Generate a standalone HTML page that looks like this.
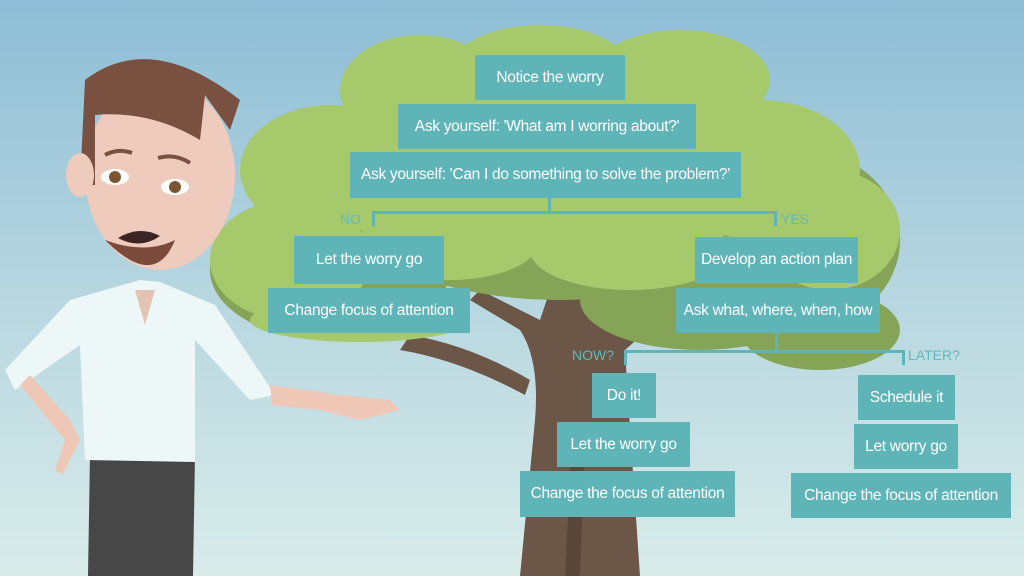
<!DOCTYPE html>
<html><head><meta charset="utf-8"><style>
html,body{margin:0;padding:0;width:1024px;height:576px;overflow:hidden}
body{position:relative;background:linear-gradient(#8dbdd6 0%,#b6d6e0 50%,#d9ecea 100%);font-family:"Liberation Sans",sans-serif}
svg{position:absolute;left:0;top:0}
.b{position:absolute;background:#5fb4b8;color:#fff;font-size:15.5px;display:flex;align-items:center;justify-content:center;white-space:nowrap;letter-spacing:-0.3px}
.l{position:absolute;color:#5fb9bf;font-size:14px}
.ln{position:absolute;background:#5fb4b8}
</style></head><body>
<svg width="1024" height="576" viewBox="0 0 1024 576">
<path d="M520 576 L535 420 Q540 360 520 330 L470 300 L480 290 L540 320 L560 260 L600 260 L610 320 L660 300 L670 310 L625 350 Q630 430 640 576 Z" fill="#6b5648"/>
<path d="M400 350 Q460 360 525 395 L530 380 Q470 345 410 335 Z" fill="#6b5648"/>
<path d="M565 576 L572 440 L585 440 L580 576Z" fill="#5a4639"/>
<g fill="#86a458">
<ellipse cx="330" cy="270" rx="120" ry="70"/><ellipse cx="560" cy="180" rx="240" ry="120"/>
<ellipse cx="800" cy="240" rx="100" ry="90"/><ellipse cx="700" cy="300" rx="120" ry="50"/>
<ellipse cx="820" cy="330" rx="80" ry="40"/>
</g>
<g fill="#a6c96c">
<ellipse cx="420" cy="90" rx="80" ry="55"/><ellipse cx="540" cy="70" rx="90" ry="45"/>
<ellipse cx="680" cy="80" rx="90" ry="50"/><ellipse cx="330" cy="170" rx="90" ry="65"/>
<ellipse cx="560" cy="150" rx="220" ry="90"/><ellipse cx="290" cy="260" rx="80" ry="60"/>
<ellipse cx="760" cy="170" rx="100" ry="70"/><ellipse cx="830" cy="230" rx="70" ry="60"/>
<ellipse cx="630" cy="250" rx="100" ry="40"/><ellipse cx="450" cy="240" rx="90" ry="40"/>
<ellipse cx="360" cy="320" rx="110" ry="22"/>
</g>
<path d="M88 576 L90 455 L195 455 L193 576Z" fill="#474747"/>
<path d="M140 280 L70 300 L5 370 L15 390 L80 345 L85 460 L195 462 L195 340 L250 400 L275 395 L215 305 L160 282Z" fill="#eef7f7"/>
<path d="M135 290 L145 325 L155 290Z" fill="#e3c3b4"/>
<path d="M20 385 L65 440 L55 470 L62 475 L80 440 L70 420 L30 375Z" fill="#efc7b6"/>
<path d="M270 385 L340 395 L390 400 L400 410 L360 420 L320 410 L272 405Z" fill="#efc7b6"/>
<ellipse cx="160" cy="175" rx="75" ry="95" fill="#efcbbd"/>
<path d="M105 240 Q155 290 175 240 Q145 255 105 240Z" fill="#7a4b3c"/>
<path d="M80 185 L85 80 Q150 30 240 100 L230 130 L205 95 L200 140 Q150 110 95 115 L95 185Z" fill="#7a5040"/>
<ellipse cx="80" cy="175" rx="14" ry="22" fill="#efcbbd"/><ellipse cx="222" cy="190" rx="12" ry="20" fill="#efcbbd"/>
<ellipse cx="115" cy="177" rx="14" ry="8" fill="#fff"/><circle cx="115" cy="177" r="6" fill="#7a5532"/>
<ellipse cx="175" cy="187" rx="14" ry="8" fill="#fff"/><circle cx="175" cy="187" r="6" fill="#7a5532"/>
<path d="M118 238 Q140 225 160 236 Q140 250 118 238Z" fill="#3a2424"/>
<path d="M105 155 Q118 148 132 153 M158 158 Q175 153 190 163" stroke="#7a5040" stroke-width="4" fill="none"/>
</svg>
<div class="b" style="left:475px;top:55px;width:150px;height:45px">Notice the worry</div>
<div class="b" style="left:398px;top:104px;width:298px;height:45px">Ask yourself: 'What am I worring about?'</div>
<div class="b" style="left:350px;top:152px;width:391px;height:46px">Ask yourself: 'Can I do something to solve the problem?'</div>
<div class="ln" style="left:548px;top:198px;width:3px;height:13px"></div>
<div class="ln" style="left:372px;top:211px;width:405px;height:3px"></div>
<div class="ln" style="left:372px;top:211px;width:3px;height:15px"></div>
<div class="ln" style="left:774px;top:211px;width:3px;height:15px"></div>
<div class="l" style="left:340px;top:211px">NO</div>
<div class="l" style="left:781px;top:211px">YES</div>
<div class="b" style="left:294px;top:236px;width:150px;height:48px">Let the worry go</div>
<div class="b" style="left:268px;top:288px;width:202px;height:45px">Change focus of attention</div>
<div class="b" style="left:695px;top:237px;width:163px;height:46px">Develop an action plan</div>
<div class="b" style="left:676px;top:288px;width:204px;height:45px">Ask what, where, when, how</div>
<div class="ln" style="left:775px;top:333px;width:3px;height:18px"></div>
<div class="ln" style="left:624px;top:350px;width:281px;height:3px"></div>
<div class="ln" style="left:624px;top:350px;width:3px;height:15px"></div>
<div class="ln" style="left:902px;top:350px;width:3px;height:15px"></div>
<div class="l" style="left:572px;top:347px">NOW?</div>
<div class="l" style="left:908px;top:347px">LATER?</div>
<div class="b" style="left:592px;top:373px;width:64px;height:45px">Do it!</div>
<div class="b" style="left:557px;top:422px;width:133px;height:45px">Let the worry go</div>
<div class="b" style="left:520px;top:471px;width:215px;height:46px">Change the focus of attention</div>
<div class="b" style="left:858px;top:375px;width:97px;height:45px">Schedule it</div>
<div class="b" style="left:854px;top:424px;width:104px;height:45px">Let worry go</div>
<div class="b" style="left:791px;top:473px;width:220px;height:45px">Change the focus of attention</div>
</body></html>
